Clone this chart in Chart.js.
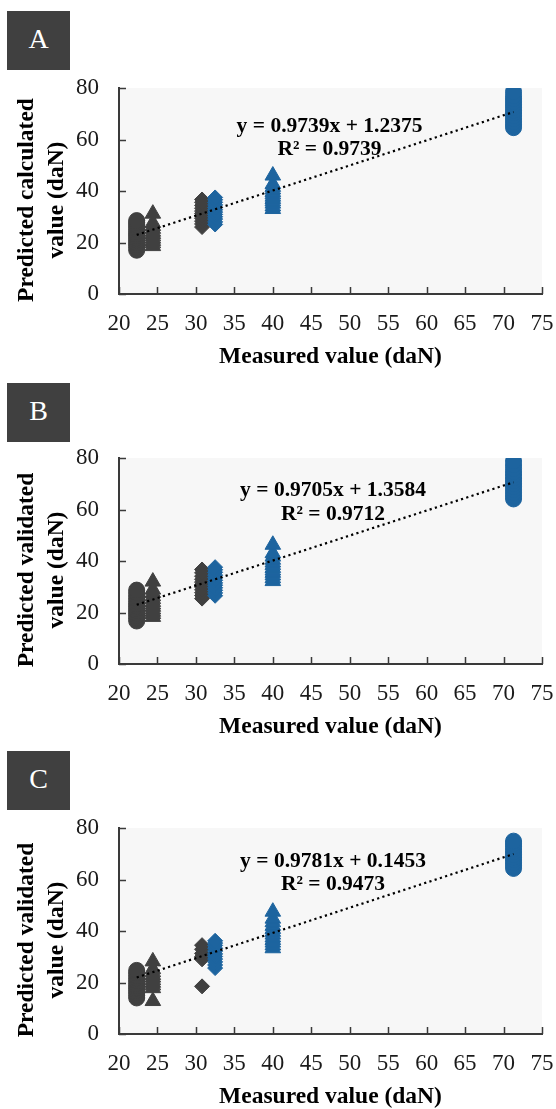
<!DOCTYPE html>
<html>
<head>
<meta charset="utf-8">
<title>Measured vs predicted load</title>
<script src="https://cdn.jsdelivr.net/npm/chart.js@4.4.0/dist/chart.umd.min.js"></script>
<style>
  body { margin: 0; background: #fff; }
  .wrap { position: relative; width: 556px; height: 1109px; overflow: hidden; }
  .panel { position: absolute; left: 0; width: 556px; height: 370px; }
  .panel canvas { position: absolute; left: 0; top: 0; }
  .tag {
    position: absolute; left: 7px; width: 63px; height: 59px; box-sizing: border-box;
    padding-bottom: 4px; background: #404040; color: #fff;
    font: 28px 'Liberation Serif', serif;
    display: flex; align-items: center; justify-content: center;
  }
</style>
</head>
<body>
<div class="wrap">
  <div class="panel" style="top: 0px"><canvas id="chartA" width="556" height="370"></canvas><div class="tag" style="top: 11px">A</div></div>
  <div class="panel" style="top: 370px"><canvas id="chartB" width="556" height="370"></canvas><div class="tag" style="top: 13px">B</div></div>
  <div class="panel" style="top: 740px"><canvas id="chartC" width="556" height="370"></canvas><div class="tag" style="top: 11px">C</div></div>
</div>
<script>
'use strict'

const xTicks = [20, 25, 30, 35, 40, 45, 50, 55, 60, 65, 70, 75]
const yTicks = [0, 20, 40, 60, 80]

// measured load of each marker column (daN)
const measured = [22.3, 24.4, 30.8, 32.5, 40.0, 71.3]

// calculated predictions
const calcCircles = [17.0, 18.1, 19.0, 19.9, 20.8, 21.6, 22.5, 23.3, 24.2, 25.1, 26.0, 26.9, 27.7, 28.5]
const calcTriangles = [18.6, 19.7, 20.6, 21.5, 22.4, 23.3, 24.2, 25.3, 26.4, 27.6, 31.2]
const calcDarkDiamonds = [26.0, 27.2, 28.3, 29.4, 30.4, 31.3, 32.2, 33.3, 34.4, 35.6, 36.7]
const calcBlueDiamonds = [27.0, 28.0, 29.1, 30.0, 30.9, 31.8, 32.7, 33.6, 34.6, 35.6, 36.6, 37.5]
const calcBlueTriangles = [33.0, 34.0, 35.1, 36.0, 36.9, 37.8, 38.7, 39.6, 40.6, 41.6, 42.7, 46.0]
const calcBlueCircles = [64.6, 65.7, 66.9, 68.0, 69.2, 70.3, 71.3, 72.4, 73.5, 74.7, 75.8, 77.0, 78.6]

// validated predictions, first set
const valBCircles = [16.7, 17.8, 18.8, 19.7, 20.6, 21.5, 22.4, 23.3, 24.3, 25.3, 26.4, 27.6, 28.7]
const valBTriangles = [18.3, 19.4, 20.3, 21.2, 22.2, 23.1, 24.1, 25.2, 26.3, 27.6, 28.9, 32.0]
const valBDarkDiamonds = [25.4, 26.6, 27.7, 28.8, 29.9, 30.9, 31.8, 32.9, 34.1, 35.4, 36.7]
const valBBlueDiamonds = [26.5, 27.6, 28.6, 29.6, 30.6, 31.5, 32.5, 33.5, 34.5, 35.6, 36.6, 37.6]
const valBBlueTriangles = [32.2, 33.3, 34.4, 35.4, 36.3, 37.3, 38.4, 39.4, 40.5, 41.7, 43.0, 46.3]
const valBBlueCircles = [64.1, 65.3, 66.5, 67.7, 68.9, 70.0, 71.1, 72.2, 73.4, 74.6, 75.9, 77.3, 78.8]

// validated predictions, second set
const valCCircles = [14.0, 15.0, 16.0, 16.9, 17.8, 18.7, 19.6, 20.6, 21.6, 22.6, 23.7, 24.7]
const valCTriangles = [12.8, 17.8, 18.9, 19.9, 20.9, 21.9, 22.9, 24.0, 25.2, 28.2]
const valCDarkDiamonds = [18.5, 29.0, 30.1, 31.3, 32.9, 34.5]
const valCBlueDiamonds = [25.6, 26.8, 28.0, 29.1, 30.1, 31.1, 32.2, 33.3, 34.4, 35.3, 36.2]
const valCBlueTriangles = [33.3, 34.4, 35.5, 36.5, 37.5, 38.6, 39.7, 40.8, 42.0, 43.4, 44.8, 47.5]
const valCBlueCircles = [64.3, 65.4, 66.5, 67.6, 68.6, 69.7, 70.7, 71.8, 72.9, 73.9, 74.9]

// linear fits
const slopes = [0.9739, 0.9705, 0.9781]
const intercepts = [1.2375, 1.3584, 0.1453]
const rSquared = [0.9739, 0.9712, 0.9473]

const dark = '#404040'
const blue = '#1d649f'
const axisColor = '#3a3a3a'

const markers = [
  { shape: 'circle', radius: 8, color: dark },
  { shape: 'triangle', radius: 9, color: dark },
  { shape: 'rectRot', radius: 7.5, color: dark },
  { shape: 'rectRot', radius: 7.5, color: blue },
  { shape: 'triangle', radius: 9, color: blue },
  { shape: 'circle', radius: 8, color: blue },
]

const panels = [
  {
    id: 'chartA',
    yTitle: ['Predicted calculated', 'value (daN)'],
    columns: [calcCircles, calcTriangles, calcDarkDiamonds, calcBlueDiamonds, calcBlueTriangles, calcBlueCircles],
    eq: { x: 329.5, y: 131.7 },
  },
  {
    id: 'chartB',
    yTitle: ['Predicted validated', 'value (daN)'],
    columns: [valBCircles, valBTriangles, valBDarkDiamonds, valBBlueDiamonds, valBBlueTriangles, valBBlueCircles],
    eq: { x: 333, y: 126 },
  },
  {
    id: 'chartC',
    yTitle: ['Predicted validated', 'value (daN)'],
    columns: [valCCircles, valCTriangles, valCDarkDiamonds, valCBlueDiamonds, valCBlueTriangles, valCBlueCircles],
    eq: { x: 333, y: 126.7 },
  },
]

const plotBackground = {
  id: 'plotBackground',
  beforeDraw(chart) {
    const { ctx, chartArea } = chart
    ctx.save()
    ctx.fillStyle = '#f7f7f7'
    ctx.fillRect(chartArea.left, chartArea.top, chartArea.width, chartArea.height)
    ctx.restore()
  },
}

// short tick marks pointing into the plot
const innerTicks = {
  id: 'innerTicks',
  beforeDatasetsDraw(chart) {
    const { ctx, chartArea, scales } = chart
    ctx.save()
    ctx.strokeStyle = axisColor
    ctx.lineWidth = 1.5
    ctx.beginPath()
    scales.x.ticks.forEach((t) => {
      const px = Math.round(scales.x.getPixelForValue(t.value)) + 0.5
      ctx.moveTo(px, chartArea.bottom)
      ctx.lineTo(px, chartArea.bottom - 7)
    })
    scales.y.ticks.forEach((t) => {
      const py = Math.round(scales.y.getPixelForValue(t.value)) + 0.5
      ctx.moveTo(chartArea.left, py)
      ctx.lineTo(chartArea.left + 7, py)
    })
    ctx.stroke()
    ctx.restore()
  },
}

// two-line rotated title left of the y axis
const yAxisTitle = {
  id: 'yAxisTitle',
  afterDraw(chart, args, opts) {
    const ctx = chart.ctx
    ctx.save()
    ctx.translate(opts.x, opts.y)
    ctx.rotate(-Math.PI / 2)
    ctx.font = 'bold 23.5px "Liberation Serif"'
    ctx.fillStyle = '#000'
    ctx.textAlign = 'center'
    ctx.textBaseline = 'middle'
    opts.lines.forEach((line, i) => ctx.fillText(line, 0, i * opts.gap))
    ctx.restore()
  },
}

const equationLabel = {
  id: 'equationLabel',
  afterDatasetsDraw(chart, args, opts) {
    const ctx = chart.ctx
    ctx.save()
    ctx.font = 'bold 21.5px "Liberation Serif"'
    ctx.fillStyle = '#000'
    ctx.textAlign = 'center'
    opts.lines.forEach((line, i) => ctx.fillText(line, opts.x, opts.y + i * 23.5))
    ctx.restore()
  },
}

Chart.defaults.font.family = "'Liberation Serif', serif"

panels.forEach((panel, p) => {
  const datasets = panel.columns.map((values, i) => ({
    data: values.map((v) => ({ x: measured[i], y: v })),
    pointStyle: markers[i].shape,
    pointRadius: markers[i].radius,
    backgroundColor: markers[i].color,
    borderColor: markers[i].color,
    borderWidth: 1,
    order: markers[i].color === blue ? 1 : 2,
  }))

  // trend line over the measured range
  const xFrom = Math.min(...measured)
  const xTo = Math.max(...measured)
  datasets.push({
    data: [xFrom, xTo].map((x) => ({ x: x, y: slopes[p] * x + intercepts[p] })),
    showLine: true,
    borderColor: '#000',
    borderWidth: 2.2,
    borderDash: [2.2, 3.3],
    pointRadius: 0,
    order: 0,
  })

  new Chart(document.getElementById(panel.id), {
    type: 'scatter',
    data: { datasets: datasets },
    options: {
      responsive: false,
      animation: false,
      events: [],
      layout: { padding: { top: 88, right: 14, left: 0, bottom: 0 } },
      plugins: {
        legend: { display: false },
        tooltip: { enabled: false },
        yAxisTitle: { x: 26.5, y: 200, gap: 30, lines: panel.yTitle },
        equationLabel: {
          x: panel.eq.x,
          y: panel.eq.y,
          lines: [
            'y = ' + slopes[p].toFixed(4) + 'x + ' + intercepts[p].toFixed(4),
            'R² = ' + rSquared[p].toFixed(4),
          ],
        },
      },
      scales: {
        x: {
          type: 'linear',
          min: 20,
          max: 75,
          afterBuildTicks: (scale) => { scale.ticks = xTicks.map((v) => ({ value: v })) },
          afterFit: (scale) => {
            scale.height = 76
            scale.paddingLeft = 0
            scale.paddingRight = 0
          },
          grid: { drawOnChartArea: false, drawTicks: false },
          border: { display: true, color: axisColor, width: 2 },
          ticks: { padding: 16, color: '#1a1a1a', font: { size: 23 }, maxRotation: 0, autoSkip: false },
          title: {
            display: true,
            text: 'Measured value (daN)',
            color: '#000',
            font: { size: 23.5, weight: 'bold', lineHeight: 1.1 },
            padding: 0,
          },
        },
        y: {
          type: 'linear',
          min: 0,
          max: 80,
          afterBuildTicks: (scale) => { scale.ticks = yTicks.map((v) => ({ value: v })) },
          afterFit: (scale) => {
            scale.width = 119
            scale.paddingTop = 0
            scale.paddingBottom = 0
          },
          grid: { drawOnChartArea: false, drawTicks: false },
          border: { display: true, color: axisColor, width: 2 },
          ticks: { padding: 20, color: '#1a1a1a', font: { size: 23 } },
        },
      },
    },
    plugins: [plotBackground, innerTicks, yAxisTitle, equationLabel],
  })
})
</script>
</body>
</html>
